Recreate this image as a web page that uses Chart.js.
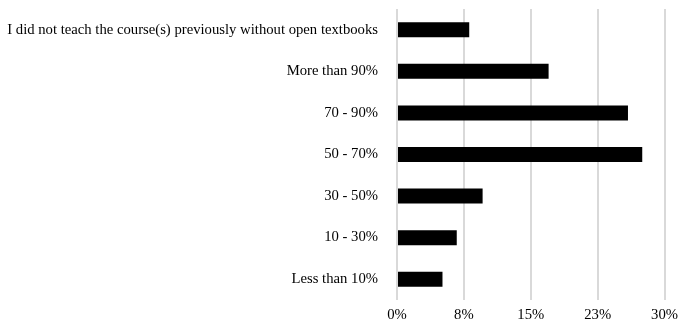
<!DOCTYPE html>
<html lang="en">
<head>
    <meta charset="UTF-8">
    <title>Open textbooks</title>
    <style>
        body { margin: 0; background: #fff; }
        #wrap { width: 684px; height: 328px; }
    </style>
    <script src="https://cdn.jsdelivr.net/npm/chart.js@4"></script>
</head>
<body>
    <div id="wrap"><canvas id="chart" width="684" height="328"></canvas></div>

    <script>
        // categories, top to bottom
        const categories = [
            'I did not teach the course(s) previously without open textbooks',
            'More than 90%',
            '70 - 90%',
            '50 - 70%',
            '30 - 50%',
            '10 - 30%',
            'Less than 10%'
        ];
        // share of respondents (%)
        const shares = [8.1, 17.0, 25.9, 27.5, 9.6, 6.7, 5.1];
        const xTicks = [0, 7.5, 15, 22.5, 30];

        const ctx = document.getElementById('chart').getContext('2d');
        new Chart(ctx, {
            type: 'bar',
            data: {
                labels: categories,
                datasets: [{
                    data: shares,
                    backgroundColor: '#000',
                    borderWidth: 0,
                    barPercentage: 0.72,
                    categoryPercentage: 0.5
                }]
            },
            options: {
                indexAxis: 'y',
                responsive: false,
                animation: false,
                layout: { padding: { top: 0, right: 19, bottom: 4, left: 0 } },
                plugins: { legend: { display: false }, tooltip: { enabled: false } },
                scales: {
                    x: {
                        min: 0,
                        max: 30,
                        afterBuildTicks: axis => { axis.ticks = xTicks.map(v => ({ value: v })); },
                        afterFit: axis => { axis.height = 24; },
                        grid: { color: '#d9d9d9', lineWidth: 2, drawTicks: false },
                        border: { display: false },
                        ticks: {
                            color: '#000',
                            padding: 6,
                            font: { family: 'Liberation Serif', size: 14.7 },
                            callback: v => Math.round(v) + '%'
                        }
                    },
                    y: {
                        afterFit: axis => {
                            axis.width = 397;
                            axis.paddingTop = 9;
                            axis.paddingBottom = 0;
                        },
                        grid: { display: false, drawTicks: false },
                        border: { display: false },
                        ticks: {
                            color: '#000',
                            padding: 19,
                            font: { family: 'Liberation Serif', size: 14.7 }
                        }
                    }
                }
            }
        });
    </script>
</body>
</html>
